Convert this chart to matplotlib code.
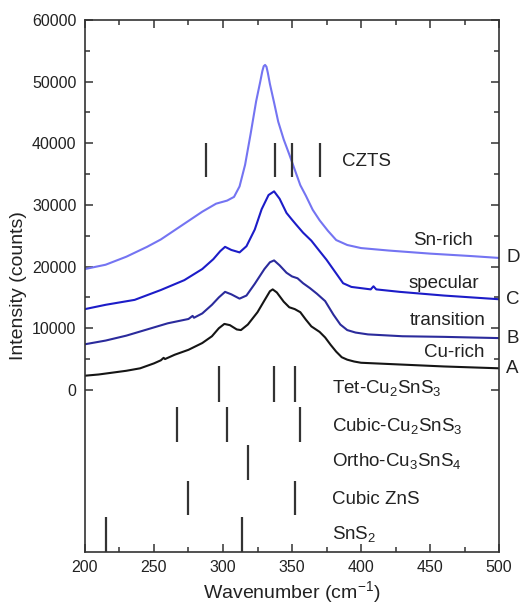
import matplotlib
matplotlib.use("Agg")
import matplotlib.pyplot as plt
from matplotlib.ticker import FixedLocator, MultipleLocator

plt.rcParams['font.family'] = ['Liberation Sans', 'DejaVu Sans']
plt.rcParams['mathtext.fontset'] = 'custom'
plt.rcParams['mathtext.rm'] = 'Liberation Sans'
plt.rcParams['mathtext.it'] = 'Liberation Sans'

# Raman spectra (wavenumber in cm^-1, intensity in counts)
wn_a = [200, 210, 220, 230, 240, 250, 255, 257, 258, 265, 275, 285, 292, 297, 301, 305,
        310, 313, 318, 325, 330, 334, 336, 339, 344, 348, 352, 356, 360, 364, 370, 374,
        378, 382, 386, 390, 395, 400, 420, 440, 460, 480, 500]
int_a = [2300, 2500, 2800, 3100, 3500, 4300, 4800, 5200, 5000, 5700, 6500, 7600, 8700,
         10000, 10700, 10500, 9800, 9700, 10600, 12600, 14500, 16000, 16300, 15800, 14300,
         13400, 13100, 12600, 11400, 10300, 9400, 8500, 7300, 6200, 5300, 4900, 4600, 4400,
         4200, 4000, 3800, 3650, 3500]

wn_b = [200, 215, 230, 245, 260, 275, 278, 279, 285, 292, 297, 301.5, 306, 312, 317, 323,
        330, 334, 337, 341, 346, 350, 354, 358, 363, 368, 374, 380, 385, 390, 396, 405,
        430, 460, 500]
int_b = [7400, 8000, 8800, 9800, 10800, 11500, 12000, 11700, 12400, 13800, 15000, 15900,
         15500, 14800, 15300, 17200, 19600, 20700, 21000, 20200, 19000, 18400, 18100, 17300,
         16500, 15600, 14400, 12200, 10600, 9700, 9300, 9000, 8700, 8600, 8400]

wn_c = [200, 215, 236, 255, 272, 285, 293, 298, 301.5, 306, 312, 317, 323, 328, 333, 337,
        341, 346, 350, 353, 358, 364, 370, 375, 381, 387, 393, 400, 407, 409, 411, 428,
        460, 500]
int_c = [13100, 13800, 14600, 16200, 17800, 19600, 21200, 22500, 23200, 22700, 22300,
         23300, 26000, 29300, 31600, 32200, 31000, 28700, 27600, 26800, 25500, 24200, 22500,
         21100, 19200, 17300, 16700, 16500, 16300, 16800, 16300, 15900, 15300, 14700]

wn_d = [200, 215, 230, 245, 255, 265, 275, 285, 295, 303, 308, 312, 316, 320, 324, 327,
        328.5, 329.5, 330.5, 331.5, 332.5, 334, 337, 340, 344, 348, 352, 356, 360, 365,
        370, 376, 382, 390, 400, 420, 450, 480, 500]
int_d = [19600, 20300, 21600, 23200, 24400, 25900, 27400, 28900, 30200, 30700, 31300,
         33000, 36500, 41500, 46800, 50000, 51700, 52500, 52700, 52400, 51400, 49600, 46600,
         43500, 40600, 38200, 35700, 33200, 31500, 29200, 27500, 25800, 24300, 23500, 23000,
         22600, 22100, 21700, 21400]

spectra = [
    (wn_a, int_a, '#151515', 'A', 'Cu-rich'),
    (wn_b, int_b, '#2b2b9c', 'B', 'transition'),
    (wn_c, int_c, '#1c1cc8', 'C', 'specular'),
    (wn_d, int_d, '#7474f2', 'D', 'Sn-rich'),
]
sample_label_x = [489.5, 490.5, 485.5, 481]
sample_label_y = [6000, 11300, 17300, 24300]

# Reference Raman modes of candidate phases: (label, positions, bar bottom, bar top, label y)
phases = [
    ('CZTS', [288, 338, 350, 370], 34500, 40000, 37000),
    ('Tet-Cu$_2$SnS$_3$', [297, 337, 352], -1900, 3800, 300),
    ('Cubic-Cu$_2$SnS$_3$', [267, 303, 356], -8500, -2800, -5900),
    ('Ortho-Cu$_3$SnS$_4$', [318], -14600, -8900, -11600),
    ('Cubic ZnS', [275, 352], -20300, -14700, -17700),
    ('SnS$_2$', [215, 314], -26300, -20600, -23300),
]
phase_label_x = 379

fig = plt.figure(figsize=(5.21, 6.04), dpi=100)
ax = fig.add_axes([0.163, 0.086, 0.795, 0.881])

for wn, inten, col, letter, name in spectra:
    ax.plot(wn, inten, color=col, lw=1.5)

for (wn, inten, col, letter, name), lx, ly in zip(spectra, sample_label_x, sample_label_y):
    ax.text(505, inten[-1], letter, fontsize=13.5, color='#222222',
            ha='left', va='center', clip_on=False)
    ax.text(lx, ly, name, fontsize=13.5, color='#222222', ha='right', va='center')

for label, pos, lo, hi, ly in phases:
    ax.vlines(pos, lo, hi, color='#333333', lw=1.6)
    tx = 386 if label == 'CZTS' else phase_label_x
    ax.text(tx, ly, label, fontsize=13.5, color='#222222', ha='left', va='center')

ax.set_xlim(200, 500)
ax.set_ylim(-26300, 60000)
ax.xaxis.set_major_locator(MultipleLocator(50))
ax.xaxis.set_minor_locator(MultipleLocator(25))
ax.yaxis.set_major_locator(FixedLocator(list(range(0, 60001, 10000))))
ax.yaxis.set_minor_locator(FixedLocator(list(range(5000, 60000, 10000))))
ax.tick_params(which='both', direction='in', top=True, right=True,
               labelsize=11.5, colors='#333333', labelcolor='#222222')
ax.tick_params(which='major', length=6, width=1.1, pad=6)
ax.tick_params(which='minor', length=3.5, width=1.1)
for s in ax.spines.values():
    s.set_color('#333333')
    s.set_linewidth(1.2)

ax.set_xlabel('Wavenumber (cm$^{-1}$)', fontsize=14, color='#222222', labelpad=3)
ax.set_ylabel('Intensity (counts)', fontsize=14, color='#222222', labelpad=4)

fig.savefig('out.png', dpi=100)
